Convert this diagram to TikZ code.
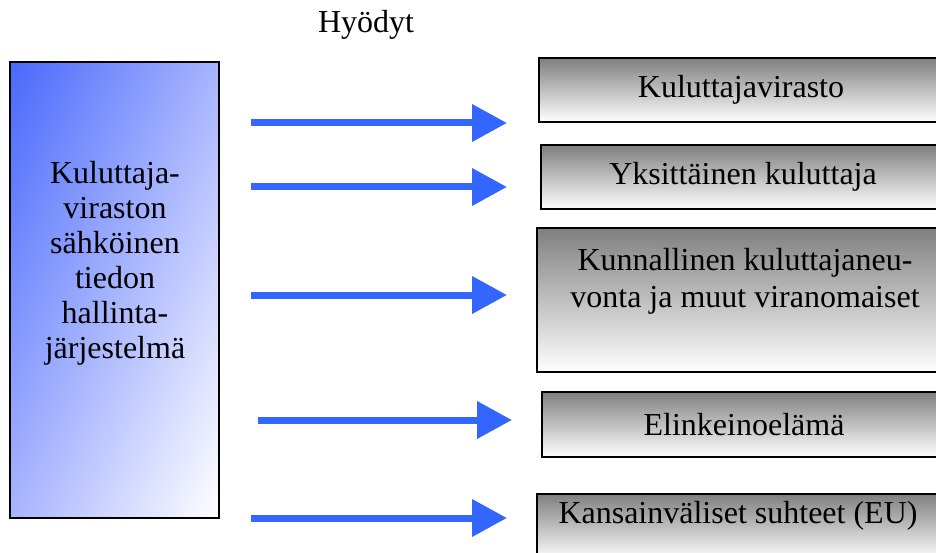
\documentclass[tikz,border=0pt]{standalone}
\usepackage{fontspec}
\setmainfont{Liberation Serif}
\usetikzlibrary{arrows.meta,shadings}
\definecolor{arrowblue}{RGB}{51,102,255}
\definecolor{sysdark}{RGB}{72,105,252}
\definecolor{sysmid}{RGB}{168,180,255}
\begin{document}
\begin{tikzpicture}[x=1pt, y=-1pt, font=\fontsize{32}{35}\selectfont,
		sysbox/.style={draw, line width=1.5pt, inner sep=0pt, minimum width=209pt, minimum height=456pt,
			upper left=sysdark, upper right=sysmid, lower left=sysmid, lower right=white},
		outbox/.style={draw, line width=2pt, inner sep=0pt, anchor=west, minimum width=404pt,
			minimum height=64pt, top color=black!50, bottom color=white},
		benefit/.style={arrowblue, line width=7pt, -{Triangle[length=35pt, width=36pt]}}]
		\clip (0,0) rectangle (936,553);
		\node (title) at (366,25) {Hyödyt};
		% lahde
		\node[sysbox] (sys) at (114.5,290) {};
		\node[align=center] (systext) at (115,263)
			{Kuluttaja-\\viraston\\sähköinen\\tiedon\\hallinta-\\järjestelmä};
		% hyotyjat
		\node[outbox] (virasto) at (538,90) {Kuluttajavirasto};
		\node[outbox] (kuluttaja) at (540,177) {Yksittäinen kuluttaja};
		\node[outbox, minimum height=144pt] (neuvonta) at (536,300) {};
		\node[align=center, font=\fontsize{32}{37}\selectfont] (neuvontatext) at (745,281)
			{Kunnallinen kuluttajaneu-\\vonta ja muut viranomaiset};
		\node[outbox, minimum height=65pt] (elinkeino) at (541,424.5) {Elinkeinoelämä};
		\node[outbox, minimum height=66pt] (eu) at (536,527) {};
		\node (eutext) at (738,516) {Kansainväliset suhteet (EU)};
		% nuolet
		\foreach \xa/\xb/\y [count=\i] in {251/507/123, 251/507/187, 251/507/295, 258/512/420, 251/507/518}{
			\coordinate (s\i) at (\xa,\y);
			\coordinate (t\i) at (\xb,\y);
			\draw[benefit] (s\i) -- (t\i);
		}
	\end{tikzpicture}
\end{document}
